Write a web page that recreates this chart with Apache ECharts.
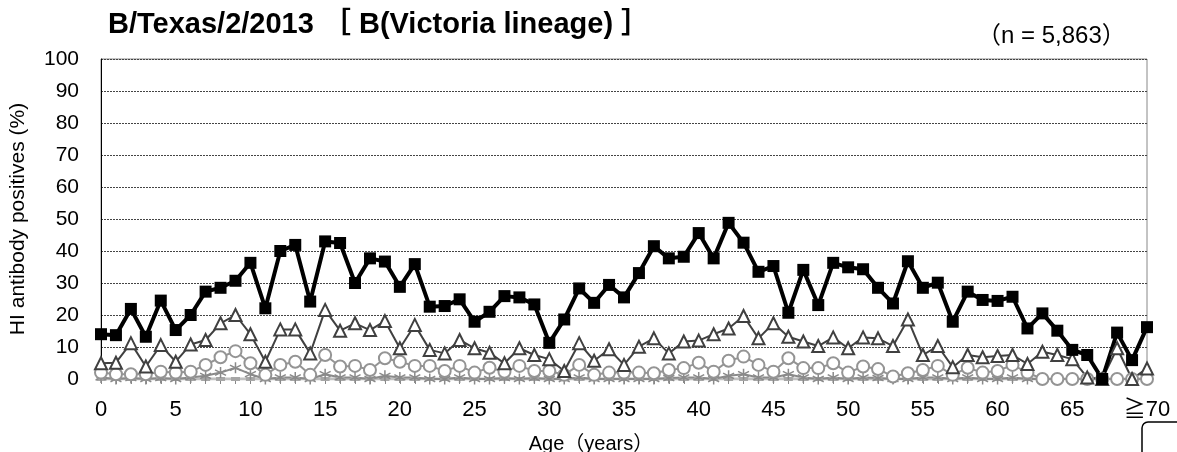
<!DOCTYPE html>
<html>
<head>
<meta charset="utf-8">
<script src="https://cdn.jsdelivr.net/npm/echarts@6/dist/echarts.min.js"></script>
<style>
  html, body { margin: 0; padding: 0; background: #fff; }
  #chart_container { width: 1177px; height: 452px; }
</style>
</head>
<body>
<div id="chart_container"></div>
<script>
// age categories 0..69 and >=70
var ages = [];
for (var a = 0; a < 70; a++) { ages.push(String(a)); }
ages.push('≧70');

var yTicks = [0, 10, 20, 30, 40, 50, 60, 70, 80, 90, 100];

// HI antibody positives (%) by titre group
var pos_square = [14, 13.7, 21.9, 13.2, 24.5, 15.3, 20, 27.3, 28.5, 30.7,
  36.3, 22.1, 40, 41.9, 24.2, 43, 42.5, 30, 37.7, 36.7,
  28.8, 35.9, 22.6, 22.8, 24.9, 17.9, 21, 25.9, 25.5, 23.3,
  11.3, 18.6, 28.3, 23.8, 29.4, 25.5, 33.1, 41.5, 37.7, 38.2,
  45.6, 37.7, 48.8, 42.6, 33.5, 35.3, 20.7, 34.1, 23.1, 36.3,
  34.9, 34.3, 28.5, 23.6, 36.8, 28.5, 30.1, 17.9, 27.3, 24.7,
  24.4, 25.7, 15.8, 20.5, 15.1, 9.1, 7.5, 0, 14.5, 5.9,
  16.2];

var pos_triangle = [4.9, 5.1, 11.2, 3.9, 10.6, 5.4, 10.8, 12.2, 17.4, 20,
  14, 5.4, 15.5, 15.5, 8, 21.6, 15.1, 17.4, 15.3, 18.1,
  9.6, 16.9, 9.1, 8, 12.2, 9.6, 8.2, 4.9, 9.6, 7.5,
  6.2, 2.5, 11.2, 5.7, 9.3, 4.4, 10.1, 12.7, 8, 11.7,
  12, 14, 15.8, 19.7, 12.7, 17.4, 13.2, 11.7, 10.3, 13,
  9.6, 13, 12.7, 10.3, 18.6, 7.5, 10.3, 3.7, 7.5, 6.8,
  7.2, 7.5, 4.7, 8.5, 7.5, 6.2, 0.5, 0, 9.6, 0,
  3.3];

var pos_circle = [2, 1.5, 1.5, 1.5, 2.3, 2, 2.3, 4.4, 6.8, 8.7,
  4.9, 1.3, 4.4, 5.4, 1.3, 7.5, 3.9, 4.1, 2.8, 6.5,
  5.4, 4.1, 4.1, 2.5, 4.1, 2, 3.5, 2.3, 4.1, 2.5,
  2.5, 1.3, 4.4, 1.3, 2, 2, 2, 1.8, 2.8, 3.4,
  5.1, 2.3, 5.7, 7, 4.4, 2.3, 6.5, 3.4, 3.4, 4.9,
  2, 3.9, 3.1, 0.8, 1.8, 2.8, 4.1, 1.3, 3.5, 2,
  2.5, 4.4, 2, 0, 0, 0, 0, 0, 0, 0,
  0];

var pos_star = [0.5, 0, 0.3, 0, 0.3, 0, 0.5, 1, 2, 3.5,
  1.5, 0, 0.5, 0.5, 0, 1.5, 0.5, 0.5, 0, 1,
  0.5, 0.5, 0, 0, 0.5, 0, 0, 0.3, 0, 0.3,
  0, 0, 0.5, 0, 0, 0, 0, 0, 0.3, 0.5,
  0.5, 0, 1, 1.5, 0.5, 0.5, 1.5, 0.5, 0, 0.5,
  0, 0.5, 0.3, 0, 0, 0.5, 0.5, 0, 0.5, 0,
  0, 0.5, 0, 0, 0, 0, 0, 0, 0, 0,
  0];

var pos_base = [];
for (var b = 0; b < ages.length; b++) { pos_base.push(0); }

var titleText = 'B/Texas/2/2013 ［ B(Victoria lineage) ］';
var nText = '（n = 5,863）';
var fontFam = '"Liberation Sans", Arial, "Noto Sans CJK JP", sans-serif';

var chart = echarts.init(document.getElementById('chart_container'));
var option = {
  animation: false,
  backgroundColor: '#fff',
  textStyle: { fontFamily: fontFam },
  title: [
    {
      text: titleText,
      left: 103, top: 5,
      textStyle: { fontFamily: fontFam, fontSize: 29, fontWeight: 'bold', color: '#000' }
    },
    {
      text: nText,
      left: 972, top: 19,
      textStyle: { fontFamily: fontFam, fontSize: 24, fontWeight: 'normal', color: '#000' }
    }
  ],
  grid: {
    left: 101, right: 30, top: 59, bottom: 73,
    outerBoundsMode: 'none',
    show: true, borderColor: '#888', borderWidth: 1
  },
  xAxis: {
    type: 'category',
    data: ages,
    boundaryGap: false,
    name: 'Age（years）',
    nameLocation: 'middle',
    nameGap: 55,
    nameTextStyle: { fontFamily: fontFam, fontSize: 20, color: '#000', padding: [0, 66, 0, 0] },
    axisLine: { show: true, lineStyle: { color: '#888', width: 1 } },
    axisTick: { show: true, interval: 0, length: 5, lineStyle: { color: '#888' } },
    axisLabel: { interval: 4, fontSize: 22, color: '#000', margin: 20, fontFamily: fontFam },
    splitLine: { show: false }
  },
  yAxis: {
    type: 'value',
    min: yTicks[0],
    max: yTicks[yTicks.length - 1],
    interval: 10,
    name: 'HI antibody positives (%)',
    nameLocation: 'middle',
    nameGap: 72,
    nameTextStyle: { fontFamily: fontFam, fontSize: 21, color: '#000' },
    axisLine: { show: true, lineStyle: { color: '#000', width: 1 } },
    axisTick: { show: false },
    axisLabel: { fontSize: 21, color: '#000', margin: 22, fontFamily: fontFam },
    splitLine: { show: true, lineStyle: { color: '#444', width: 1, type: [2, 1] } }
  },
  series: [
    {
      name: 'base',
      type: 'line',
      data: pos_base,
      showAllSymbol: true,
      symbol: 'rect',
      symbolSize: [9, 4],
      itemStyle: { color: '#a6a6a6' },
      lineStyle: { color: '#c0c0c0', width: 3 }
    },
    {
      name: 'star',
      type: 'line',
      data: pos_star,
      showAllSymbol: true,
      symbol: 'path://M0,-6L0,6M-5.2,-3L5.2,3M-5.2,3L5.2,-3',
      symbolSize: 11,
      itemStyle: { color: '#8a8a8a', borderColor: '#8a8a8a', borderWidth: 1.5 },
      lineStyle: { color: '#8a8a8a', width: 2 }
    },
    {
      name: 'circle',
      type: 'line',
      data: pos_circle,
      showAllSymbol: true,
      symbol: 'circle',
      symbolSize: 12,
      itemStyle: { color: '#fff', borderColor: '#949494', borderWidth: 2 },
      lineStyle: { color: '#949494', width: 2 }
    },
    {
      name: 'triangle',
      type: 'line',
      data: pos_triangle,
      showAllSymbol: true,
      symbol: 'triangle',
      symbolSize: 12,
      itemStyle: { color: '#fff', borderColor: '#404040', borderWidth: 2 },
      lineStyle: { color: '#404040', width: 2 }
    },
    {
      name: 'square',
      type: 'line',
      data: pos_square,
      showAllSymbol: true,
      symbol: 'rect',
      symbolSize: 12,
      itemStyle: { color: '#000' },
      lineStyle: { color: '#000', width: 4 }
    }
  ],
  graphic: [
    {
      type: 'rect',
      shape: { x: 1142, y: 422, width: 60, height: 60, r: 6 },
      style: { fill: 'none', stroke: '#000', lineWidth: 1.5 }
    }
  ]
};
chart.setOption(option);
</script>
</body>
</html>
